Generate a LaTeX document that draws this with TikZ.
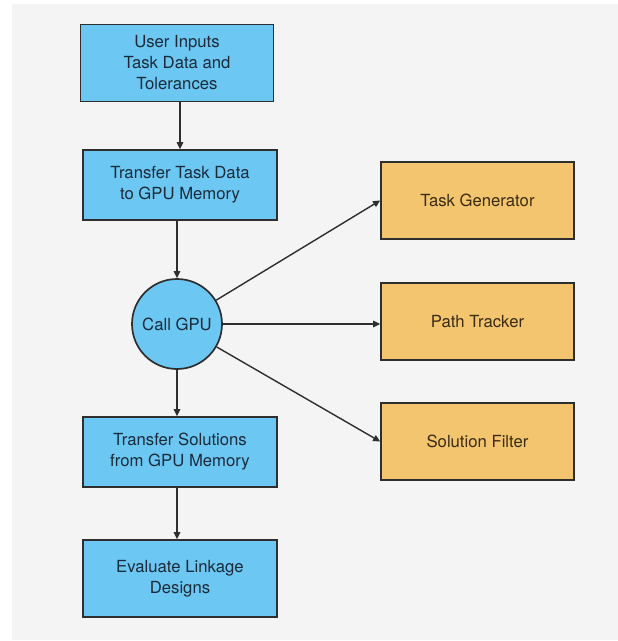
\documentclass[tikz,border=0pt]{standalone}
\usepackage{fontspec}
\setmainfont{TeX Gyre Heros}
\usetikzlibrary{arrows.meta}
\definecolor{pagebg}{HTML}{F4F4F4}
\definecolor{bluefill}{HTML}{6CC8F2}
\definecolor{orangefill}{HTML}{F3C56F}
\definecolor{edge}{HTML}{2E2E2E}
\definecolor{bluetext}{HTML}{1B2A3A}
\definecolor{orangetext}{HTML}{3A2C14}
\tikzset{
  labelfont/.style={font=\fontsize{16.7}{21}\selectfont},
  stepbox/.style={draw=edge, line width=1.7pt, fill=bluefill, text=bluetext,
    minimum width=194pt, align=center, inner sep=0pt, labelfont},
  kernelbox/.style={draw=edge, line width=1.7pt, fill=orangefill, text=orangetext,
    minimum width=193pt, minimum height=77pt, align=center, inner sep=0pt, labelfont},
  gpucircle/.style={circle, draw=edge, line width=1.7pt, fill=bluefill, text=bluetext,
    minimum size=90pt, inner sep=0pt, labelfont},
  flow/.style={draw=edge, line width=1.4pt, -{Triangle[length=7pt,width=6.5pt]}}
}
\begin{document}
\begin{tikzpicture}[x=1pt,y=-1pt]
  % page and panel background
  \fill[white] (0,0) rectangle (618,641);
  \fill[pagebg] (12,4) rectangle (618,640);
  \useasboundingbox (0,0) rectangle (618,641);

  % main sequence
  \node[stepbox, minimum width=193pt, minimum height=77pt] (inputs) at (177,63)
    {User Inputs\\Task Data and\\Tolerances};
  \node[stepbox, minimum height=70pt] (toGPU) at (180,185)
    {Transfer Task Data\\to GPU Memory};
  \node[gpucircle] (gpu) at (177,324) {Call GPU};
  \node[stepbox, minimum height=70pt] (fromGPU) at (180,452)
    {Transfer Solutions\\from GPU Memory};
  \node[stepbox, minimum height=77pt] (evaluate) at (180,578.5)
    {Evaluate Linkage\\Designs};

  % GPU kernels
  \node[kernelbox] (taskgen) at (477.5,200.5) {Task Generator};
  \node[kernelbox] (tracker) at (477.5,321.5) {Path Tracker};
  \node[kernelbox] (filter) at (477.5,441.5) {Solution Filter};

  % connectors
  \draw[flow] (toGPU.north |- inputs.south) -- (toGPU.north);
  \draw[flow] (gpu.north |- toGPU.south) -- (gpu.north);
  \draw[flow] (gpu.south) -- (gpu.south |- fromGPU.north);
  \draw[flow] (gpu.south |- fromGPU.south) -- (gpu.south |- evaluate.north);
  \draw[flow] (gpu) -- (taskgen.west);
  \draw[flow] (gpu.east) -- (gpu.east -| tracker.west);
  \draw[flow] (gpu) -- (filter.west);
\end{tikzpicture}
\end{document}
